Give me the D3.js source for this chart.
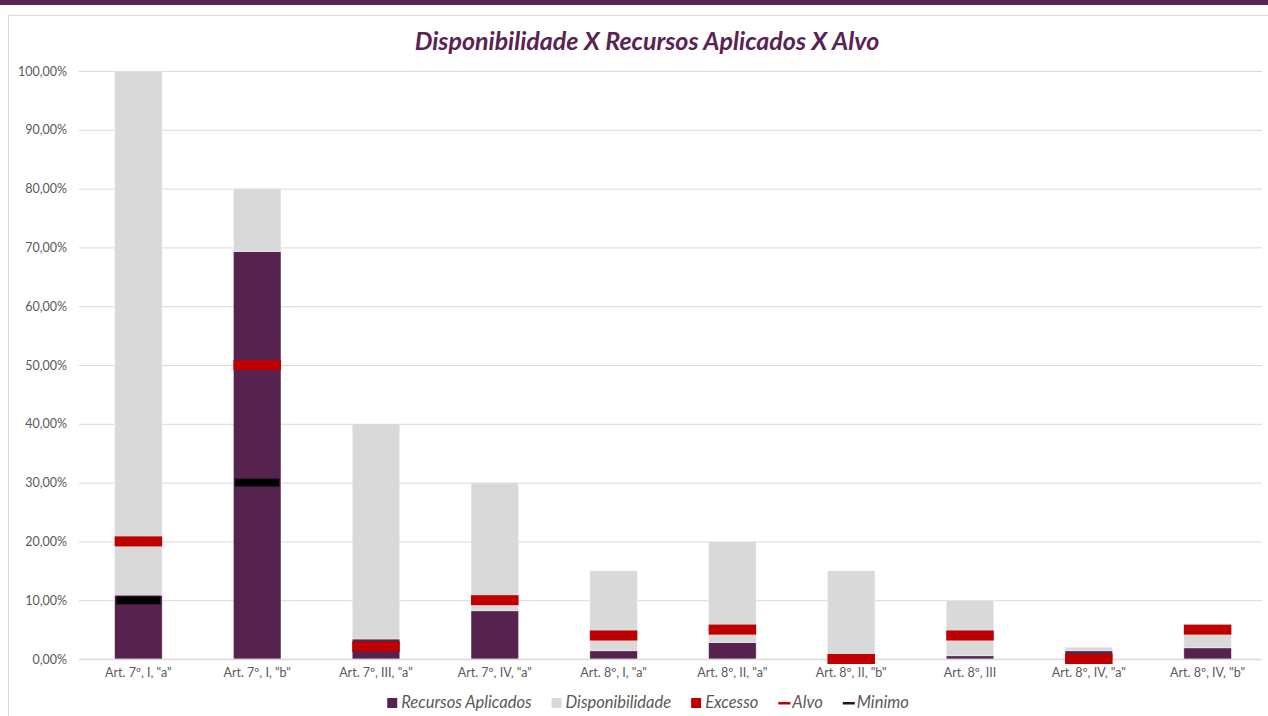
<!DOCTYPE html>
<html>
<head>
<meta charset="utf-8">
<script src="https://cdn.jsdelivr.net/npm/d3@7"></script>
<style>
  body { margin: 0; background: #fff; }
  svg { display: block; font-family: Lato, "Open Sans", sans-serif; }
</style>
</head>
<body>
<div id="chart"></div>
<script>
// categories and series (percent values)
var categories = ['Art. 7º, I, "a"', 'Art. 7º, I, "b"', 'Art. 7º, III, "a"', 'Art. 7º, IV, "a"', 'Art. 8º, I, "a"',
    'Art. 8º, II, "a"', 'Art. 8º, II, "b"', 'Art. 8º, III', 'Art. 8º, IV, "a"', 'Art. 8º, IV, "b"'];
var recursos = [10.85, 69.3, 3.4, 8.2, 1.4, 2.8, 0, 0.55, 1.4, 1.9];
var disponibilidade = [89.15, 10.7, 36.6, 21.8, 13.6, 17.2, 15, 9.45, 0.6, 3.1];
var excesso = [0, 0, 0, 0, 0, 0, 0, 0, 0, 0];
var alvo = [20, 50, 2.1, 10, 4, 5, 0, 4, 0, 5];
var minimo = [10, 30, null, null, null, null, null, null, null, null];
var yTicks = [0, 10, 20, 30, 40, 50, 60, 70, 80, 90, 100];

var width = 1268, height = 716;
var purple = "#56234f", gray = "#d9d9d9", red = "#c00000", textColor = "#595959";

var svg = d3.select("#chart")
    .append("svg")
    .attr("width", width)
    .attr("height", height);

// top band + chart frame
svg.append("rect").attr("x", 0).attr("y", 0).attr("width", width).attr("height", 5).attr("fill", "#5a2352");
svg.append("rect").attr("x", 8.5).attr("y", 15.5).attr("width", width).attr("height", height)
    .attr("fill", "none").attr("stroke", "#d9d9d9");

svg.append("text")
    .attr("x", 647)
    .attr("y", 50)
    .attr("text-anchor", "middle")
    .style("font-size", "25px")
    .style("font-weight", "bold")
    .style("font-style", "italic")
    .style("fill", "#5a2352")
    .text("Disponibilidade X Recursos Aplicados X Alvo");

var x = d3.scaleBand()
    .domain(categories)
    .range([79, 1267])
    .paddingInner(0.6)
    .paddingOuter(0.3);

var y = d3.scaleLinear()
    .domain([0, 100])
    .range([659, 71]);

var fmt = function (d) { return d.toFixed(2).replace(".", ",") + "%"; };

// gridlines + y labels
var yAxis = svg.append("g")
    .attr("transform", "translate(79,0)")
    .call(d3.axisLeft(y).tickValues(yTicks).tickFormat(fmt).tickSize(-(1262 - 79)).tickPadding(12));
yAxis.select(".domain").remove();
yAxis.selectAll(".tick line").attr("stroke", "#d9d9d9");
yAxis.selectAll(".tick text").style("font-size", "12.5px").style("fill", textColor)
    .style("font-family", "Lato, sans-serif");

// stacked bars
var rows = categories.map(function (c, i) {
    return { cat: c, recursos: recursos[i], disponibilidade: disponibilidade[i], excesso: excesso[i] };
});
var stack = d3.stack().keys(["recursos", "disponibilidade", "excesso"])(rows);
var colors = { recursos: purple, disponibilidade: gray, excesso: red };

svg.append("g")
    .selectAll("g")
    .data(stack)
    .enter().append("g")
    .attr("fill", function (s) { return colors[s.key]; })
    .selectAll("rect")
    .data(function (s) { return s; })
    .enter().append("rect")
    .attr("x", function (d) { return x(d.data.cat); })
    .attr("y", function (d) { return y(d[1]); })
    .attr("width", x.bandwidth())
    .attr("height", function (d) { return y(d[0]) - y(d[1]); })
    .attr("stroke", "rgba(255,255,255,0.5)")
    .attr("stroke-width", 0.75);

// x axis line
svg.append("line")
    .attr("x1", 79).attr("x2", 1262)
    .attr("y1", y(0) + 0.5).attr("y2", y(0) + 0.5)
    .attr("stroke", "#d9d9d9").attr("stroke-width", 1.5);

// alvo markers
svg.append("g")
    .selectAll("rect")
    .data(alvo)
    .enter().append("rect")
    .attr("x", function (d, i) { return x(categories[i]); })
    .attr("y", function (d) { return y(d) - 5; })
    .attr("width", x.bandwidth())
    .attr("height", 10)
    .attr("fill", red);

// minimo markers
svg.append("g")
    .selectAll("rect")
    .data(minimo.map(function (v, i) { return { v: v, cat: categories[i] }; }).filter(function (d) { return d.v != null; }))
    .enter().append("rect")
    .attr("x", function (d) { return x(d.cat) + 1.5; })
    .attr("y", function (d) { return y(d.v) - 4; })
    .attr("width", x.bandwidth() - 3)
    .attr("height", 8)
    .attr("fill", "#000")
    .attr("stroke", "#3a1535")
    .attr("stroke-width", 1);

// category labels
svg.append("g")
    .selectAll("text")
    .data(categories)
    .enter().append("text")
    .attr("x", function (d) { return x(d) + x.bandwidth() / 2; })
    .attr("y", 677)
    .attr("text-anchor", "middle")
    .style("font-size", "12.5px")
    .style("fill", textColor)
    .text(function (d) { return d; });

// legend
var legendItems = [
    { name: "Recursos Aplicados", type: "box", color: purple },
    { name: "Disponibilidade", type: "box", color: gray },
    { name: "Excesso", type: "box", color: red },
    { name: "Alvo", type: "line", color: red },
    { name: "Minimo", type: "line", color: "#2a0f27" }
];
var legend = svg.append("g");
var lx = 0;
legendItems.forEach(function (item) {
    var g = legend.append("g").attr("transform", "translate(" + lx + ",0)");
    if (item.type == "box") {
        g.append("rect").attr("x", 0).attr("y", -10).attr("width", 10).attr("height", 10).attr("fill", item.color);
    } else {
        g.append("rect").attr("x", 0).attr("y", -6).attr("width", 12).attr("height", 2.5).attr("fill", item.color);
    }
    var t = g.append("text")
        .attr("x", 14)
        .attr("y", 0)
        .style("font-size", "16.5px")
        .style("font-style", "italic")
        .style("fill", textColor)
        .text(item.name);
    lx += 14 + t.node().getComputedTextLength() + 20;
});
lx -= 20;
legend.attr("transform", "translate(" + (648 - lx / 2) + ",708)");
</script>
</body>
</html>
